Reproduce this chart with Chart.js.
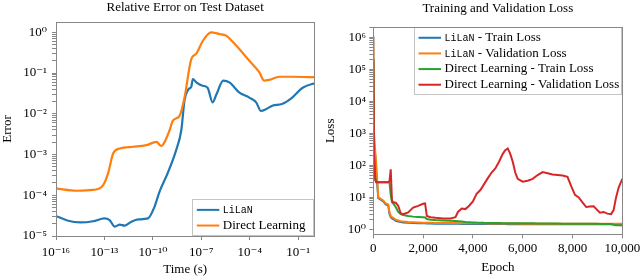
<!DOCTYPE html>
<html>
<head>
<meta charset="utf-8">
<script src="https://cdn.jsdelivr.net/npm/chart.js@4.4.0/dist/chart.umd.min.js"></script>
<style>
  html, body { margin: 0; padding: 0; background: #fff; }
  #wrap { position: relative; width: 640px; height: 279px; }
  .box { position: absolute; top: 0; width: 320px; height: 279px; }
</style>
</head>
<body>
<div id="wrap">
  <div class="box" style="left:0"><canvas id="errorChart"></canvas></div>
  <div class="box" style="left:320px"><canvas id="lossChart"></canvas></div>
</div>
<script>
// ---- data ----

// left panel: relative error vs time (s)
const liLaNTime = [1e-16, 5e-16, 3.2e-15, 2e-14, 1e-13, 2.1e-13, 4.4e-13, 8.9e-13, 1.8e-12, 4.7e-12,
  1.26e-11, 5e-11, 1.26e-10, 2.6e-10, 8.3e-10, 2.8e-9, 5.8e-9, 9.1e-9, 1.6e-8, 2.4e-8,
  3e-8, 4.9e-8, 1.2e-7, 2.5e-7, 5e-7, 8.7e-7, 2.3e-6, 5.5e-6, 2.3e-5, 9.5e-5,
  2.5e-4, 5e-4, 1e-3, 2.5e-3, 0.01, 0.043, 0.18, 0.72, 1];
const liLaNError = [3.1e-5, 2.4e-5, 2.15e-5, 2.3e-5, 2.7e-5, 2.45e-5, 1.7e-5, 1.9e-5, 1.8e-5, 2.25e-5,
  2.55e-5, 2.7e-5, 5.2e-5, 1.23e-4, 3.5e-4, 1.3e-3, 4.0e-3, 0.021, 0.040, 0.046,
  0.071, 0.059, 0.049, 0.043, 0.019, 0.030, 0.065, 0.059, 0.033, 0.025,
  0.019, 0.0117, 0.0129, 0.0158, 0.0174, 0.025, 0.043, 0.054, 0.055];

const directTime = [1e-16, 1.9e-15, 2e-14, 8.3e-14, 1.7e-13, 3.5e-13, 8.9e-13, 5.9e-12, 4e-11, 1.66e-10,
  3.3e-10, 5.4e-10, 1.1e-9, 1.74e-9, 4.5e-9, 9.1e-9, 2.4e-8, 4.9e-8, 1.26e-7, 4e-7,
  1.3e-6, 3.4e-6, 1.4e-5, 9.5e-5, 3.9e-4, 7.9e-4, 1.6e-3, 6.8e-3, 0.045, 0.76, 1];
const directError = [1.48e-4, 1.29e-4, 1.35e-4, 1.78e-4, 3.5e-4, 1.07e-3, 1.41e-3, 1.55e-3, 1.7e-3, 2.04e-3,
  1.62e-3, 2.04e-3, 4e-3, 6.8e-3, 8.9e-3, 0.025, 0.22, 0.30, 0.62, 1.0,
  0.91, 0.83, 0.48, 0.20, 0.105, 0.065, 0.068, 0.081, 0.081, 0.079, 0.079];

const timeTickExp = [-16, -13, -10, -7, -4, -1];

// right panel: losses vs epoch
const epochs = [0, 30, 80, 120, 200, 300, 400, 500, 600, 650,
  700, 750, 800, 900, 1000, 1100, 1200, 1400, 1600, 1800,
  2000, 2080, 2150, 2300, 2500, 2800, 3100, 3300, 3400, 3550,
  3700, 3850, 4000, 4150, 4300, 4450, 4600, 4750, 4900, 5050,
  5200, 5300, 5400, 5500, 5600, 5700, 5800, 6000, 6200, 6400,
  6600, 6800, 7000, 7200, 7400, 7600, 7800, 7950, 8100, 8250,
  8400, 8550, 8700, 8850, 9000, 9100, 9250, 9400, 9550, 9650,
  9750, 9850, 10000];

const liLaNTrain = [1.1e6, 500, 200, 60, 9.5, 8.5, 7.5, 6, 5.5, 3,
  2.4, 2.2, 2.1, 1.85, 1.75, 1.7, 1.65, 1.6, 1.58, 1.56,
  1.55, 1.54, 1.53, 1.52, 1.51, 1.5, 1.5, 1.49, 1.49, 1.48,
  1.48, 1.48, 1.47, 1.47, 1.47, 1.47, 1.46, 1.46, 1.46, 1.46,
  1.46, 1.46, 1.45, 1.45, 1.45, 1.45, 1.45, 1.45, 1.45, 1.45,
  1.45, 1.45, 1.45, 1.45, 1.45, 1.45, 1.45, 1.45, 1.45, 1.45,
  1.45, 1.45, 1.45, 1.45, 1.45, 1.45, 1.45, 1.45, 1.45, 1.45,
  1.45, 1.45, 1.45];
const liLaNVal = [1e6, 1000, 250, 100, 10, 9, 8, 6.5, 6, 3.5,
  2.6, 2.4, 2.3, 2.0, 1.9, 1.8, 1.75, 1.7, 1.68, 1.65,
  1.62, 1.62, 1.61, 1.6, 1.59, 1.58, 1.57, 1.57, 1.56, 1.56,
  1.55, 1.55, 1.55, 1.54, 1.54, 1.54, 1.53, 1.53, 1.53, 1.53,
  1.52, 1.52, 1.52, 1.52, 1.52, 1.52, 1.52, 1.51, 1.51, 1.51,
  1.51, 1.51, 1.51, 1.51, 1.5, 1.5, 1.5, 1.5, 1.5, 1.5,
  1.5, 1.5, 1.5, 1.5, 1.5, 1.5, 1.5, 1.5, 1.5, 1.5,
  1.5, 1.5, 1.5];
const directTrain = [2e5, 200, 35, 30, 30, 30, 30, 30, 30, 30,
  12, 7, 6.5, 5, 3.5, 3.0, 2.8, 2.6, 2.5, 2.45,
  2.4, 2.35, 2.1, 2.0, 1.95, 1.9, 1.85, 1.82, 1.8, 1.75,
  1.7, 1.68, 1.65, 1.63, 1.62, 1.6, 1.59, 1.58, 1.57, 1.57,
  1.56, 1.56, 1.55, 1.55, 1.55, 1.55, 1.55, 1.55, 1.54, 1.54,
  1.53, 1.53, 1.52, 1.52, 1.52, 1.51, 1.51, 1.5, 1.5, 1.5,
  1.5, 1.49, 1.49, 1.49, 1.49, 1.48, 1.48, 1.48, 1.46, 1.4,
  1.35, 1.34, 1.33];
const directVal = [2e5, 200, 35, 30, 30, 30, 30, 30, 30, 32,
  75, 8, 7, 6.8, 5.5, 3.2, 3.0, 3.4, 4.8, 5.4,
  6.3, 6.5, 2.6, 2.4, 2.3, 2.2, 2.2, 2.4, 3.5, 4.5,
  4.3, 5.5, 7.5, 13, 17, 26, 40, 60, 80, 130,
  230, 300, 340, 230, 130, 60, 38, 31, 33, 38,
  50, 62, 57, 52, 50, 48, 44, 22, 12, 10,
  7, 5, 5.2, 5.3, 4, 3.3, 3.5, 3.1, 3.0, 4,
  10, 20, 38];

const epochTicks = [0, 2000, 4000, 6000, 8000, 10000];

// ---- helpers ----
const SERIF = "'Liberation Serif', 'DejaVu Serif', serif";
const MONO = "'Liberation Mono', 'DejaVu Sans Mono', monospace";
const BLUE = '#1f77b4', ORANGE = '#ff7f0e', GREEN = '#2ca02c', RED = '#d62728';

Chart.defaults.font.family = SERIF;
Chart.defaults.font.size = 13;
Chart.defaults.color = '#000';

const SUP = { '-': '\u207B', '0': '\u2070', '1': '\u00B9', '2': '\u00B2', '3': '\u00B3',
  '4': '\u2074', '5': '\u2075', '6': '\u2076', '7': '\u2077', '8': '\u2078', '9': '\u2079' };

function powLabel(v) {
  const e = Math.log10(v);
  if (Math.abs(e - Math.round(e)) > 1e-6) return '';
  return '10' + String(Math.round(e)).split('').map(c => SUP[c]).join('');
}

// decade ticks plus the 2..9 minor ones between lo and hi
function logTicks(lo, hi) {
  const out = [];
  for (let e = Math.floor(Math.log10(lo)); e <= Math.ceil(Math.log10(hi)); e++) {
    for (let k = 1; k <= 9; k++) {
      const v = k * Math.pow(10, e);
      if (v >= lo * 0.9999 && v <= hi) out.push({ value: v });
    }
  }
  return out;
}

const toXY = (xs, ys) => xs.map((x, i) => ({ x: x, y: ys[i] }));

// frame round the plot area
const frame = {
  id: 'frame',
  afterDraw(chart) {
    const { ctx, chartArea: a } = chart;
    ctx.save();
    ctx.strokeStyle = '#888';
    ctx.lineWidth = 1;
    ctx.strokeRect(Math.round(a.left) + 0.5, Math.round(a.top) + 0.5,
      Math.round(a.right - a.left), Math.round(a.bottom - a.top));
    ctx.restore();
  }
};

// legend box inside the plot, "LiLaN" set in typewriter font
const boxLegend = {
  id: 'boxLegend',
  afterDatasetsDraw(chart, args, opts) {
    const { ctx, chartArea: a } = chart;
    const sets = chart.data.datasets;
    const rowH = 15.65, pad = 2.65;
    const h = pad * 2 + rowH * sets.length;
    const w = opts.width;
    const x = a.right - w;
    const y = opts.anchor === 'bottom' ? a.bottom - h : a.top;
    ctx.save();
    ctx.fillStyle = '#fff';
    ctx.fillRect(x, y, w, h);
    ctx.strokeStyle = '#c4c4c4';
    ctx.lineWidth = 1;
    ctx.strokeRect(Math.round(x) + 0.5, Math.round(y) + 0.5, Math.round(w) - 1, Math.round(h) - 1);
    ctx.textBaseline = 'middle';
    sets.forEach((ds, i) => {
      const cy = y + pad + rowH * (i + 0.5);
      ctx.strokeStyle = ds.borderColor;
      ctx.lineWidth = 2;
      ctx.beginPath();
      ctx.moveTo(x + 4.5, cy);
      ctx.lineTo(x + 27, cy);
      ctx.stroke();
      ctx.fillStyle = '#000';
      let tx = x + 30.5;
      let rest = ds.label;
      if (rest.startsWith('LiLaN')) {
        ctx.font = '10px ' + MONO;
        ctx.fillText('LiLaN', tx, cy + 0.5);
        tx += ctx.measureText('LiLaN').width;
        rest = rest.slice(5);
      }
      ctx.font = '13px ' + SERIF;
      ctx.fillText(rest, tx, cy);
    });
    ctx.restore();
  }
};

// ---- left: relative error ----
new Chart(document.getElementById('errorChart'), {
  type: 'line',
  data: {
    datasets: [{
      label: 'LiLaN',
      data: toXY(liLaNTime, liLaNError),
      borderColor: BLUE,
      order: 1
    }, {
      label: 'Direct Learning',
      data: toXY(directTime, directError),
      borderColor: ORANGE,
      order: 0
    }]
  },
  options: {
    animation: false,
    responsive: true,
    maintainAspectRatio: false,
    layout: { padding: { right: 5.7 } },
    elements: {
      point: { radius: 0 },
      line: { borderWidth: 2.2, cubicInterpolationMode: 'monotone', fill: false }
    },
    plugins: {
      legend: { display: false },
      tooltip: { enabled: false },
      title: {
        display: true, fullSize: false,
        text: 'Relative Error on Test Dataset',
        font: { size: 13, weight: 'normal' },
        color: '#000',
        padding: { top: 0, bottom: 6.4 }
      },
      boxLegend: { width: 122, anchor: 'bottom' }
    },
    scales: {
      x: {
        type: 'logarithmic',
        min: 1e-16, max: 1,
        afterBuildTicks: s => { s.ticks = timeTickExp.map(e => ({ value: Math.pow(10, e) })); },
        afterFit: s => { s.height = 43; s.paddingLeft = 0; s.paddingRight = 0; },
        ticks: { callback: v => powLabel(v), autoSkip: false, maxRotation: 0, padding: 5, color: '#000' },
        grid: { drawOnChartArea: false, tickLength: 4, tickColor: '#888' },
        border: { color: '#888' },
        title: { display: true, text: 'Time (s)', padding: { top: 0, bottom: 1.2 }, color: '#000' }
      },
      y: {
        type: 'logarithmic',
        min: 1e-5, max: 1.79,
        afterBuildTicks: s => { s.ticks = logTicks(1e-5, 1.79); },
        afterFit: s => { s.width = 56; s.paddingTop = 0; s.paddingBottom = 0; },
        ticks: { callback: v => powLabel(v), autoSkip: false, padding: 5, color: '#000' },
        grid: { drawOnChartArea: false, tickLength: 4, tickColor: '#888' },
        border: { color: '#888' },
        title: { display: true, text: 'Error', padding: { top: 0, bottom: 0 }, color: '#000' }
      }
    }
  },
  plugins: [frame, boxLegend]
});

// ---- right: training / validation loss ----
new Chart(document.getElementById('lossChart'), {
  type: 'line',
  data: {
    datasets: [{
      label: 'LiLaN - Train Loss',
      data: toXY(epochs, liLaNTrain),
      borderColor: BLUE,
      order: 3
    }, {
      label: 'LiLaN - Validation Loss',
      data: toXY(epochs, liLaNVal),
      borderColor: ORANGE,
      order: 2
    }, {
      label: 'Direct Learning - Train Loss',
      data: toXY(epochs, directTrain),
      borderColor: GREEN,
      order: 1
    }, {
      label: 'Direct Learning - Validation Loss',
      data: toXY(epochs, directVal),
      borderColor: RED,
      order: 0
    }]
  },
  options: {
    animation: false,
    responsive: true,
    maintainAspectRatio: false,
    layout: { padding: { right: 17.7 } },
    elements: {
      point: { radius: 0 },
      line: { borderWidth: 2, tension: 0, fill: false }
    },
    plugins: {
      legend: { display: false },
      tooltip: { enabled: false },
      title: {
        display: true, fullSize: false,
        text: 'Training and Validation Loss',
        font: { size: 13, weight: 'normal' },
        color: '#000',
        padding: { top: 1, bottom: 10.7 }
      },
      boxLegend: { width: 208.3, anchor: 'top' }
    },
    scales: {
      x: {
        type: 'linear',
        min: 0, max: 10000,
        afterBuildTicks: s => { s.ticks = epochTicks.map(v => ({ value: v })); },
        afterFit: s => { s.height = 44.7; s.paddingLeft = 0; s.paddingRight = 0; },
        ticks: { callback: v => v.toLocaleString('en-US'), autoSkip: false, maxRotation: 0, padding: 2.4, color: '#000' },
        grid: { drawOnChartArea: false, tickLength: 4, tickColor: '#888' },
        border: { color: '#888' },
        title: { display: true, text: 'Epoch', padding: { top: 0, bottom: 3.2 }, color: '#000' }
      },
      y: {
        type: 'logarithmic',
        min: 0.734, max: 2.09e6,
        afterBuildTicks: s => { s.ticks = logTicks(1, 2.09e6); },
        afterFit: s => { s.width = 53.3; s.paddingTop = 0; s.paddingBottom = 0; },
        ticks: { callback: v => powLabel(v), autoSkip: false, padding: 3.3, color: '#000' },
        grid: { drawOnChartArea: false, tickLength: 4, tickColor: '#888' },
        border: { color: '#888' },
        title: { display: true, text: 'Loss', padding: { top: 3, bottom: 0 }, color: '#000' }
      }
    }
  },
  plugins: [frame, boxLegend]
});
</script>
</body>
</html>
